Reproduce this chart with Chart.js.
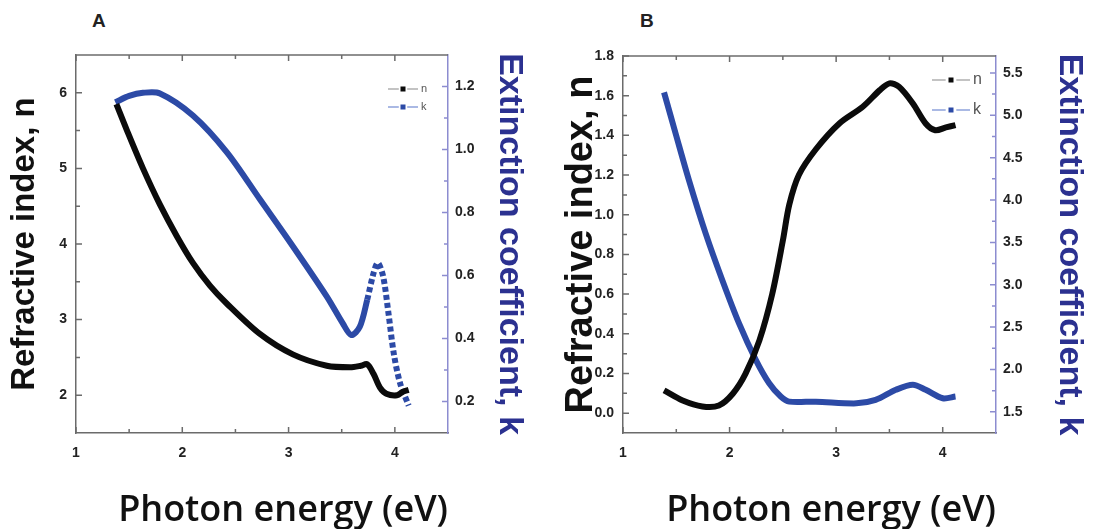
<!DOCTYPE html>
<html>
<head>
<meta charset="utf-8">
<script src="https://cdn.jsdelivr.net/npm/chart.js@4.4.1/dist/chart.umd.min.js"></script>
<style>
  html, body { margin: 0; padding: 0; background: #fff; }
  #wrap { position: relative; width: 1093px; height: 529px; overflow: hidden; }
  .panel { position: absolute; top: 0; height: 529px; }
  #pa { left: 0; width: 546px; }
  #pb { left: 546px; width: 547px; }
  .tag { position: absolute; top: 10px; font: bold 19px "Liberation Sans", Arial, sans-serif; color: #222; }
</style>
</head>
<body>
<div id="wrap">
  <div class="tag" style="left:92px">A</div>
  <div class="tag" style="left:640px">B</div>
  <div class="panel" id="pa"><canvas id="chartA" width="546" height="529"></canvas></div>
  <div class="panel" id="pb"><canvas id="chartB" width="547" height="529"></canvas></div>
</div>
<script>
// ---- panel A ----
const energyNA = [1.38, 1.48, 1.63, 1.79, 1.95, 2.10, 2.26, 2.42, 2.73, 3.04, 3.36, 3.58, 3.68, 3.74, 3.80, 3.86, 3.92, 4.02, 4.08, 4.13];
const nA       = [5.85, 5.50, 5.00, 4.52, 4.10, 3.75, 3.45, 3.21, 2.81, 2.54, 2.39, 2.37, 2.39, 2.41, 2.28, 2.10, 2.02, 2.00, 2.05, 2.07];
const energyKA = [1.37, 1.50, 1.63, 1.79, 2.10, 2.42, 2.73, 3.04, 3.36, 3.51, 3.59, 3.67, 3.74, 3.80, 3.84, 3.89, 3.94, 3.99, 4.05, 4.13];
const kA       = [1.15, 1.17, 1.18, 1.178, 1.108, 0.991, 0.842, 0.693, 0.533, 0.448, 0.411, 0.437, 0.523, 0.608, 0.640, 0.597, 0.480, 0.352, 0.257, 0.187];

// ---- panel B ----
const energyNB = [1.385, 1.56, 1.745, 1.90, 2.03, 2.15, 2.28, 2.40, 2.50, 2.56, 2.65, 2.81, 3.03, 3.25, 3.41, 3.50, 3.59, 3.72, 3.84, 3.93, 4.03, 4.12];
const nB       = [0.115, 0.064, 0.034, 0.039, 0.098, 0.199, 0.367, 0.60, 0.87, 1.05, 1.20, 1.33, 1.46, 1.544, 1.628, 1.662, 1.645, 1.561, 1.46, 1.426, 1.44, 1.452];
const energyKB = [1.385, 1.495, 1.62, 1.777, 1.933, 2.09, 2.247, 2.37, 2.48, 2.56, 2.81, 3.19, 3.37, 3.56, 3.72, 3.84, 4.00, 4.12];
const kB       = [5.27, 4.78, 4.23, 3.60, 3.05, 2.54, 2.11, 1.84, 1.68, 1.62, 1.62, 1.60, 1.64, 1.76, 1.82, 1.76, 1.66, 1.68];

// ---- ticks ----
const xMajor   = [1, 2, 3, 4];
const xMinor   = [1.5, 2.5, 3.5];
const nTicksA  = [2, 3, 4, 5, 6];
const nMinorA  = [2.5, 3.5, 4.5, 5.5];
const kTicksA  = [0.2, 0.4, 0.6, 0.8, 1.0, 1.2];
const kMinorA  = [0.3, 0.5, 0.7, 0.9, 1.1];
const nTicksB  = [0.0, 0.2, 0.4, 0.6, 0.8, 1.0, 1.2, 1.4, 1.6, 1.8];
const nMinorB  = [0.1, 0.3, 0.5, 0.7, 0.9, 1.1, 1.3, 1.5, 1.7];
const kTicksB  = [1.5, 2.0, 2.5, 3.0, 3.5, 4.0, 4.5, 5.0, 5.5];
const kMinorB  = [1.75, 2.25, 2.75, 3.25, 3.75, 4.25, 4.75, 5.25];

const seriesLabels = ['n', 'k'];

const BLACK = '#0b0b0b';
const BLUE = '#2c4aa6';
const TITLE_BLUE = '#2b3190';
const AXIS = '#6b6b6b';
const RIGHT_AXIS = '#8c8cd0';
const tickFont = { family: '"Liberation Sans Narrow", "Liberation Sans", Arial, sans-serif', weight: 'bold', size: 14 };

const pts = (xs, ys) => xs.map((x, i) => ({ x: x, y: ys[i] }));

// inward tick marks (major + minor) on all four sides, plus the top frame line
const frame = {
  id: 'frame',
  afterDraw(chart, args, o) {
    const { ctx, chartArea: a, scales } = chart;
    ctx.save();
    ctx.lineWidth = 1.5;
    ctx.strokeStyle = AXIS;
    ctx.beginPath(); ctx.moveTo(a.left, a.top); ctx.lineTo(a.right, a.top); ctx.stroke();
    const mark = (vals, len) => {
      vals.forEach(v => {
        const px = scales.x.getPixelForValue(v);
        ctx.moveTo(px, a.bottom); ctx.lineTo(px, a.bottom - len);
        ctx.moveTo(px, a.top); ctx.lineTo(px, a.top + len);
      });
    };
    ctx.beginPath(); mark(xMajor, 6); mark(xMinor, 4); ctx.stroke();
    ctx.beginPath();
    o.left.major.forEach(v => { const py = scales.y.getPixelForValue(v); ctx.moveTo(a.left, py); ctx.lineTo(a.left + 6, py); });
    o.left.minor.forEach(v => { const py = scales.y.getPixelForValue(v); ctx.moveTo(a.left, py); ctx.lineTo(a.left + 4, py); });
    ctx.stroke();
    ctx.strokeStyle = RIGHT_AXIS;
    ctx.beginPath();
    o.right.major.forEach(v => { const py = scales.y1.getPixelForValue(v); ctx.moveTo(a.right, py); ctx.lineTo(a.right - 6, py); });
    o.right.minor.forEach(v => { const py = scales.y1.getPixelForValue(v); ctx.moveTo(a.right, py); ctx.lineTo(a.right - 4, py); });
    ctx.stroke();
    ctx.restore();
  }
};

// small "-■- n" legend in the top right corner of the plot
const insideLegend = {
  id: 'insideLegend',
  afterDatasetsDraw(chart, args, o) {
    const { ctx, chartArea: a } = chart;
    ctx.save();
    chart.data.datasets.forEach((ds, i) => {
      const y = a.top + o.top + i * o.gap;
      const x1 = a.right - o.right;
      const x0 = x1 - o.len;
      const seg = o.len * 0.36;
      ctx.strokeStyle = o.lines[i];
      ctx.lineWidth = 1.5;
      ctx.beginPath();
      ctx.moveTo(x0, y); ctx.lineTo(x0 + seg, y);
      ctx.moveTo(x1 - seg, y); ctx.lineTo(x1, y);
      ctx.stroke();
      ctx.fillStyle = ds.borderColor;
      ctx.fillRect((x0 + x1) / 2 - o.box / 2, y - o.box / 2, o.box, o.box);
      ctx.fillStyle = '#555';
      ctx.font = o.font;
      ctx.textAlign = 'left';
      ctx.textBaseline = 'middle';
      ctx.fillText(ds.label, x1 + 3, y);
    });
    ctx.restore();
  }
};

function makeChart(id, cfg) {
  const fixTicks = list => s => { s.ticks = list.map(v => ({ value: v })); };
  return new Chart(document.getElementById(id), {
    type: 'line',
    data: {
      datasets: [
        {
          label: seriesLabels[0],
          data: pts(cfg.en, cfg.n),
          yAxisID: 'y',
          borderColor: BLACK,
          borderWidth: 6,
          pointRadius: 0,
          tension: 0.3,
          fill: false
        },
        {
          label: seriesLabels[1],
          data: pts(cfg.ek, cfg.k),
          yAxisID: 'y1',
          borderColor: BLUE,
          borderWidth: 6,
          pointRadius: 0,
          tension: 0.3,
          fill: false,
          segment: cfg.dotFrom ? { borderDash: c => c.p0.parsed.x >= cfg.dotFrom ? [5, 3] : undefined } : {}
        }
      ]
    },
    options: {
      responsive: false,
      animation: false,
      layout: { padding: { top: cfg.top, left: 0, right: 0, bottom: 0 } },
      plugins: {
        legend: { display: false },
        tooltip: { enabled: false },
        frame: { left: cfg.leftTicks, right: cfg.rightTicks },
        insideLegend: cfg.legend
      },
      scales: {
        x: {
          type: 'linear', min: 1, max: 4.5,
          afterBuildTicks: fixTicks(xMajor),
          afterFit: s => { s.height = 96; },
          grid: { drawOnChartArea: false, drawTicks: false },
          border: { color: AXIS, width: 1.5 },
          ticks: { font: tickFont, color: '#222', padding: 12, callback: v => String(v) },
          title: {
            display: true, text: 'Photon energy (eV)', align: 'end',
            font: { family: '"Open Sans", sans-serif', weight: '600', size: 36, lineHeight: 1 },
            color: '#111', padding: { top: 0, bottom: 0 }
          }
        },
        y: {
          position: 'left', min: cfg.nMin, max: cfg.nMax,
          afterBuildTicks: fixTicks(cfg.leftTicks.major),
          afterFit: s => { s.width = cfg.leftW; },
          grid: { drawOnChartArea: false, drawTicks: false },
          border: { color: AXIS, width: 1.5 },
          ticks: { font: tickFont, color: '#222', padding: 9, callback: v => cfg.nFmt(v) },
          title: {
            display: true, text: 'Refractive index, n',
            font: { family: '"Liberation Sans", Arial, sans-serif', weight: 'bold', size: cfg.nTitleSize },
            color: '#111', padding: { top: cfg.nTitlePad, bottom: 0 }
          }
        },
        y1: {
          position: 'right', min: cfg.kMin, max: cfg.kMax,
          afterBuildTicks: fixTicks(cfg.rightTicks.major),
          afterFit: s => { s.width = cfg.rightW; },
          grid: { drawOnChartArea: false, drawTicks: false },
          border: { color: RIGHT_AXIS, width: 1.5 },
          ticks: { font: tickFont, color: '#222', padding: 7, callback: v => v.toFixed(1) },
          title: {
            display: true, text: 'Extinction coefficient, k',
            font: { family: '"Liberation Sans", Arial, sans-serif', weight: 'bold', size: 34 },
            color: TITLE_BLUE, padding: { top: cfg.kTitlePad, bottom: 0 }
          }
        }
      }
    },
    plugins: [frame, insideLegend]
  });
}

makeChart('chartA', {
  en: energyNA, n: nA, ek: energyKA, k: kA, dotFrom: 3.72,
  nMin: 1.5, nMax: 6.5, kMin: 0.1, kMax: 1.3,
  nFmt: v => String(v),
  leftTicks: { major: nTicksA, minor: nMinorA },
  rightTicks: { major: kTicksA, minor: kMinorA },
  top: 55, leftW: 76, rightW: 98,
  nTitleSize: 33, nTitlePad: 5, kTitlePad: 16,
  legend: { top: 34, gap: 18, right: 30, len: 30, box: 5, lines: ['#b0b0b0', '#8fa2dc'], font: '11px "Liberation Sans", Arial, sans-serif' }
});

makeChart('chartB', {
  en: energyNB, n: nB, ek: energyKB, k: kB, dotFrom: null,
  nMin: -0.1, nMax: 1.8, kMin: 1.25, kMax: 5.7,
  nFmt: v => v.toFixed(1),
  leftTicks: { major: nTicksB, minor: nMinorB },
  rightTicks: { major: kTicksB, minor: kMinorB },
  top: 56, leftW: 77, rightW: 97,
  nTitleSize: 38, nTitlePad: 13, kTitlePad: 3,
  legend: { top: 24, gap: 30, right: 26, len: 38, box: 5, lines: ['#b0b0b0', '#8fa2dc'], font: '16px "Liberation Sans", Arial, sans-serif' }
});
</script>
</body>
</html>
